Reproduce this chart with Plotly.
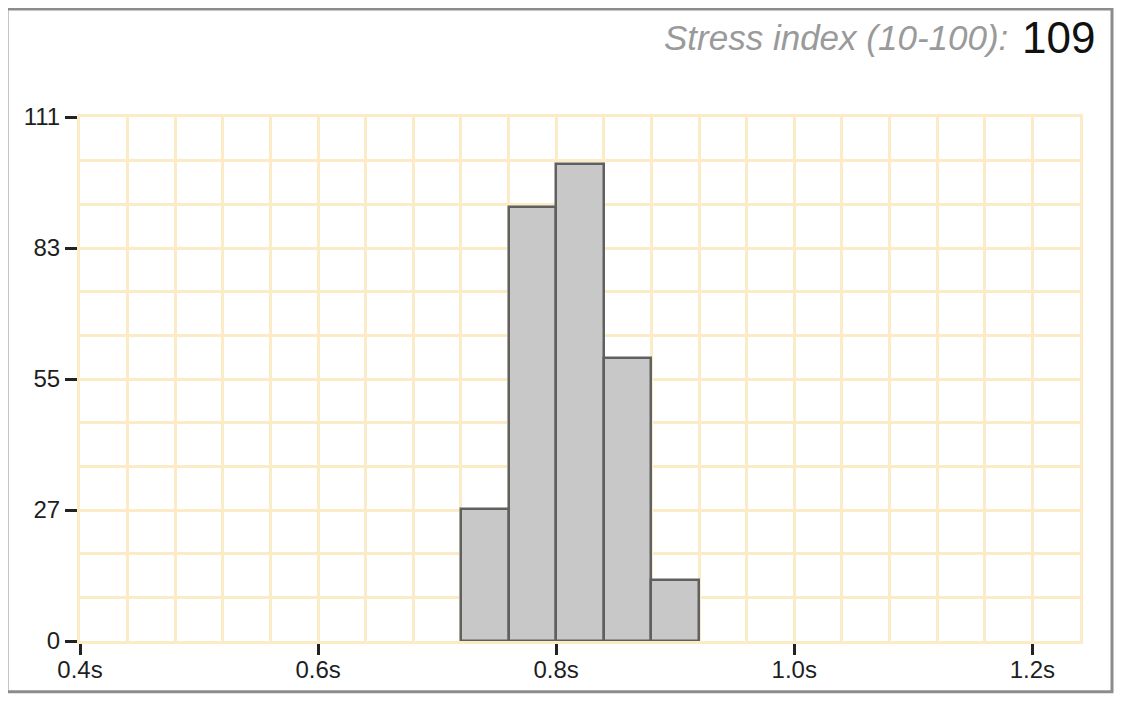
import plotly.graph_objects as go

# histogram of beat intervals (seconds) -> counts
bin_starts = [0.72, 0.76, 0.80, 0.84, 0.88]
bin_width = 0.04
counts = [28, 92, 101, 60, 13]

x_tickvals = [0.4, 0.6, 0.8, 1.0, 1.2]
x_ticktext = ["0.4s", "0.6s", "0.8s", "1.0s", "1.2s"]
y_tickvals = [0, 27.75, 55.5, 83.25, 111]
y_ticktext = ["0", "27", "55", "83", "111"]

stress_label = "Stress index (10-100):"
stress_value = "109"

GRID = "#fbebc6"
FONT = "Liberation Sans, Arial, sans-serif"

fig = go.Figure()
fig.add_trace(go.Bar(
    x=[b + bin_width / 2 for b in bin_starts],
    y=counts,
    width=bin_width,
    marker={"color": "#c8c8c8", "line": {"color": "#606060", "width": 2.5}},
    hoverinfo="x+y",
))

# page body has an 8px margin, so margins are shifted to compensate
fig.update_layout(
    width=1124,
    height=712,
    margin={"l": 72, "r": 52, "t": 109, "b": 79},
    paper_bgcolor="white",
    plot_bgcolor="white",
    showlegend=False,
    bargap=0,
    font={"family": FONT, "size": 24, "color": "#1e1e1e"},
    xaxis={
        "range": [0.4, 1.24],
        "tickvals": x_tickvals,
        "ticktext": x_ticktext,
        "ticks": "outside",
        "ticklen": 11,
        "tickwidth": 3,
        "tickcolor": "#222222",
        "ticklabelstandoff": -6,
        "showgrid": True,
        "gridcolor": GRID,
        "gridwidth": 3,
        "zeroline": False,
        "showline": True,
        "linecolor": GRID,
        "linewidth": 3,
        "mirror": True,
        "minor": {"dtick": 0.04, "tick0": 0.4, "showgrid": True, "gridcolor": GRID, "gridwidth": 3, "ticks": ""},
        "fixedrange": True,
    },
    yaxis={
        "range": [0, 111],
        "tickvals": y_tickvals,
        "ticktext": y_ticktext,
        "ticks": "outside",
        "ticklen": 12,
        "tickwidth": 3,
        "tickcolor": "#222222",
        "showgrid": True,
        "gridcolor": GRID,
        "gridwidth": 3,
        "zeroline": False,
        "showline": True,
        "linecolor": GRID,
        "linewidth": 3,
        "mirror": True,
        "minor": {"dtick": 9.25, "tick0": 0, "showgrid": True, "gridcolor": GRID, "gridwidth": 3, "ticks": ""},
        "fixedrange": True,
    },
)

# outer frame
fig.add_shape(type="rect", xref="paper", yref="paper",
              x0=-0.073, x1=1.032, y0=-0.097, y1=1.206,
              line={"color": "#8c8c8c", "width": 3}, layer="below")

fig.add_annotation(xref="paper", yref="paper", x=1.017, y=1.152, xanchor="right", yanchor="middle",
                   text=stress_value, showarrow=False,
                   font={"family": FONT, "size": 44, "color": "#111111"})
fig.add_annotation(xref="paper", yref="paper", x=0.930, y=1.152, xanchor="right", yanchor="middle",
                   text="<i>" + stress_label + "</i>", showarrow=False,
                   font={"family": FONT, "size": 35, "color": "#9a9a9a"})

fig.write_html("out.html")
